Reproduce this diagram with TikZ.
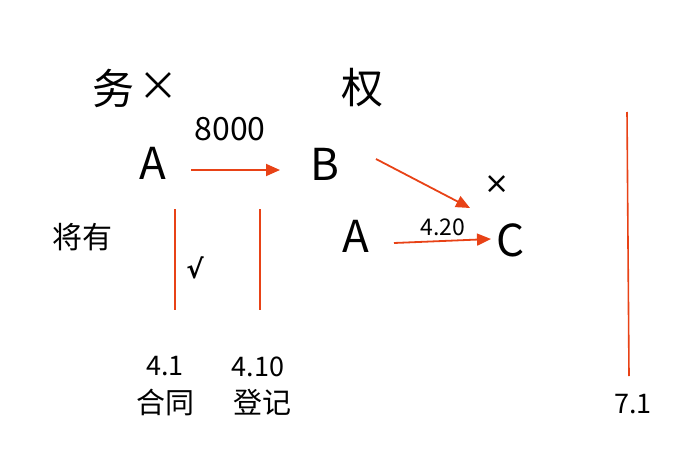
\documentclass[tikz,border=0pt]{standalone}
\usepackage{fontspec}
\setmainfont{Noto Sans CJK SC}
\newfontfamily\symfont{DejaVu Sans}
\usetikzlibrary{arrows.meta}
\definecolor{lineorange}{RGB}{232,66,22}
\tikzset{
  lbl/.style={inner sep=0pt, anchor=center, text=black},
  arr/.style={draw=lineorange, line width=1.8pt, -{Triangle[length=14pt,width=12pt]}},
  vline/.style={draw=lineorange, line width=1.6pt},
}
\begin{document}
\begin{tikzpicture}[x=1pt,y=-1pt]
\useasboundingbox (0,0) rectangle (700,468);
% headings
\node[lbl, font=\fontsize{42}{44}\selectfont] (wu) at (113,88) {务};
\node[lbl, font=\fontsize{40}{42}\selectfont] (x1) at (158,87) {×};
\node[lbl, font=\fontsize{42}{44}\selectfont] (quan) at (362,88) {权};
% nodes
\node[lbl, font=\fontsize{32}{34}\selectfont] (amt) at (230,129) {8000};
\node[lbl, font=\fontsize{44}{46}\selectfont] (A1) at (153,163) {A};
\node[lbl, font=\fontsize{44}{46}\selectfont] (B) at (325,164) {B};
\node[lbl, font=\fontsize{44}{46}\selectfont] (A2) at (356,236) {A};
\node[lbl, font=\fontsize{44}{46}\selectfont] (C) at (511,240) {C};
\node[lbl, font=\fontsize{23}{25}\selectfont] (d420) at (443,227) {4.20};
\node[lbl, font=\symfont\fontsize{30}{32}\selectfont] (x2) at (497,185) {×};
\node[lbl, font=\symfont\bfseries\fontsize{26}{28}\selectfont] (chk) at (195,268) {√};
\node[lbl, font=\fontsize{30}{32}\selectfont] (jy) at (82,237) {将有};
% bottom labels
\node[lbl, font=\fontsize{27}{29}\selectfont] (d41) at (165,366) {4.1};
\node[lbl, font=\fontsize{29}{31}\selectfont] (ht) at (165,402) {合同};
\node[lbl, font=\fontsize{27}{29}\selectfont] (d410) at (258,367) {4.10};
\node[lbl, font=\fontsize{29}{31}\selectfont] (dj) at (262,402) {登记};
\node[lbl, font=\fontsize{27}{29}\selectfont] (d71) at (633,404) {7.1};
% endpoints
\coordinate (a1s) at (191,170);
\coordinate (a1e) at (280,170);
\coordinate (bs) at (376,159);
\coordinate (be) at (470,208);
\coordinate (a2s) at (394,243);
\coordinate (a2e) at (491,239);
% arrows
\draw[arr] (a1s) -- (a1e);
\draw[arr] (bs) -- (be);
\draw[arr] (a2s) -- (a2e);
% vertical lines
\draw[vline] (175,209) -- (175,310);
\draw[vline] (260,209) -- (260,310);
\draw[vline] (627,112) -- (629,376);
\end{tikzpicture}
\end{document}
